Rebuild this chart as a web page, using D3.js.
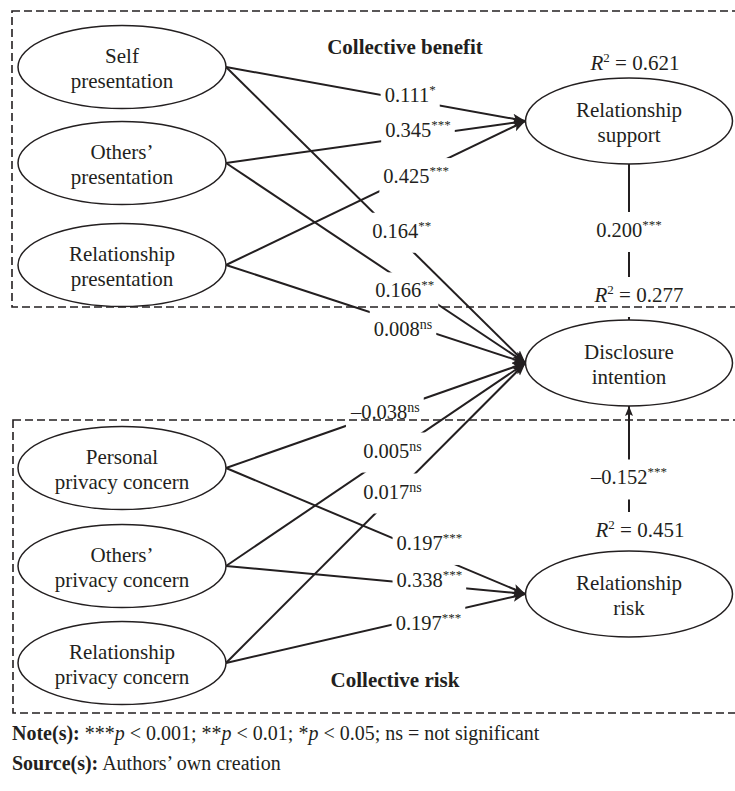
<!DOCTYPE html>
<html><head><meta charset="utf-8">
<script src="https://cdn.jsdelivr.net/npm/d3@7"></script>
<style>
html,body{margin:0;padding:0;background:#fff;}
svg{display:block;}
text{font-family:"Liberation Serif","Times New Roman",serif;fill:#231f20;}
</style></head><body>
<svg id="chart" width="735" height="791"></svg>
<script>
// ---------------- data ----------------
const nodeIds = ["SP","OP","RP","PPC","OPC","RPC","RS","DI","RR"];
const nodeLabels = [
  ["Self","presentation"],["Others’","presentation"],["Relationship","presentation"],
  ["Personal","privacy concern"],["Others’","privacy concern"],["Relationship","privacy concern"],
  ["Relationship","support"],["Disclosure","intention"],["Relationship","risk"]
];
const outcomeIds = ["RS","DI","RR"];
const rSquared = ["0.621","0.277","0.451"];

const pathFrom = ["SP","OP","RP","SP","OP","RP","PPC","OPC","RPC","PPC","OPC","RPC","RS","RR"];
const pathTo   = ["RS","RS","RS","DI","DI","DI","DI","DI","DI","RR","RR","RR","DI","DI"];
const pathCoef = ["0.111","0.345","0.425","0.164","0.166","0.008","\u20130.038","0.005","0.017","0.197","0.338","0.197","0.200","\u20130.152"];
const pathSig  = ["*","***","***","**","**","ns","ns","ns","ns","***","***","***","***","***"];

const groupTitles = ["Collective benefit","Collective risk"];
const noteParts = [["Note(s):","b"],[" ***",""],["p","i"],[" < 0.001; **",""],["p","i"],[" < 0.01; *",""],["p","i"],[" < 0.05; ns = not significant",""]];
const sourceParts = [["Source(s):","b"],[" Authors’ own creation",""]];

// ---------------- layout ----------------
const W = 735, H = 791;
const nodeColumn = ["in","in","in","in","in","in","out","out","out"];
const nodeRow = [67,163,265,468,566,663,121,363,594];
const colX = d3.scalePoint().domain(["in","out"]).range([122,629]);
const rowY = d3.scaleLinear().domain([0,791]).range([0,791]);
const RX = {in:104, out:103.5}, RY = {in:41.5, out:43};
// label placement along each path: fraction t and baseline offset
const labelT  = [.615,.641,.635,.587,.597,.591,.532,.556,.556,.679,.679,.676,.423,.507];
const labelDy = [2,1,9.5,-3,15,12.7,6.4,4.4,2.3,-3.6,2,13.6,7,7];
const r2Dx = [6,10,11], r2Dy = [-8,-18,-14];

const svg = d3.select("#chart");
const ink = "#231f20";
const defs = svg.append("defs");
defs.append("marker").attr("id","arrow").attr("markerUnits","userSpaceOnUse")
  .attr("viewBox","0 -6 14 12").attr("refX",13).attr("refY",0)
  .attr("markerWidth",14).attr("markerHeight",12).attr("orient","auto")
  .append("path").attr("d","M0,-5L13,0L0,5L3,0Z").attr("fill",ink);
defs.append("marker").attr("id","arrowS").attr("markerUnits","userSpaceOnUse")
  .attr("viewBox","0 -5 11 10").attr("refX",10).attr("refY",0)
  .attr("markerWidth",11).attr("markerHeight",10).attr("orient","auto")
  .append("path").attr("d","M0,-4L10,0L0,4L2,0Z").attr("fill",ink);

const nodes = nodeIds.map((id,i)=>({id, label:nodeLabels[i], col:nodeColumn[i],
  cx: colX(nodeColumn[i]), cy: rowY(nodeRow[i]), rx: RX[nodeColumn[i]], ry: RY[nodeColumn[i]]}));
const byId = Object.fromEntries(nodes.map(n=>[n.id,n]));

// dashed group boxes
const boxes = [{x:12,y:11,y2:307},{x:13,y:420,y2:713}];
svg.append("g").selectAll("rect").data(boxes).join("rect")
  .attr("x",d=>d.x).attr("y",d=>d.y).attr("width",W+20-12).attr("height",d=>d.y2-d.y)
  .attr("fill","none").attr("stroke",ink).attr("stroke-width",1.6).attr("stroke-dasharray","8,4");

// edges geometry
const edges = pathFrom.map((f,i)=>{
  const s = byId[f], t = byId[pathTo[i]];
  let x1,y1,x2,y2,vertical=false;
  if (s.col==="out") { // vertical between outcomes
    vertical = true;
    x1 = s.cx; x2 = t.cx;
    if (s.cy < t.cy) { y1 = s.cy + s.ry; y2 = t.cy - t.ry; } else { y1 = s.cy - s.ry; y2 = t.cy + t.ry; }
  } else {
    x1 = s.cx + s.rx; y1 = s.cy; x2 = t.cx - t.rx; y2 = t.cy;
  }
  const lx = x1 + (x2-x1)*labelT[i], ly = y1 + (y2-y1)*labelT[i] + labelDy[i];
  return {i,x1,y1,x2,y2,vertical,lx,ly,coef:pathCoef[i],sig:pathSig[i]};
});

const edgeG = svg.append("g");
const nodeG = svg.append("g");
const labelG = svg.append("g");

// edge labels
const lab = labelG.selectAll("text.coef").data(edges).join("text").attr("class","coef")
  .attr("x",d=>d.lx).attr("y",d=>d.ly).attr("text-anchor","middle").attr("font-size",20.5);
lab.append("tspan").text(d=>d.coef);
lab.append("tspan").attr("font-size",d=>d.sig==="ns"?14:13).attr("dy",d=>d.sig==="ns"?-7:-8)
  .text(d=>d.sig);

// R² labels
const r2 = outcomeIds.map((id,k)=>{const n=byId[id]; return {id,val:rSquared[k],x:n.cx+r2Dx[k],y:n.cy-n.ry+r2Dy[k]};});
const r2t = labelG.selectAll("text.r2").data(r2).join("text").attr("class","r2")
  .attr("x",d=>d.x).attr("y",d=>d.y).attr("text-anchor","middle").attr("font-size",21);
r2t.append("tspan").attr("font-style","italic").text("R");
r2t.append("tspan").attr("font-size",13).attr("dy",-8).text("2");
r2t.append("tspan").attr("dy",8).text(d=>" = "+d.val);

// masks: each edge hidden behind its own labels
function boxOf(el, baseline){const b=el.getBBox(); return {x:b.x-4,y:baseline-25,w:b.width+8,h:40};}
const r2Box = {};
r2t.each(function(d){r2Box[d.id]=boxOf(this,d.y);});
lab.each(function(d){
  const boxesE=[boxOf(this,d.ly)];
  if (d.vertical){ const tgt = pathTo[d.i]; const src = pathFrom[d.i];
    // R² label of the node the arrow points to (DI from RS) or of the source (RR)
    if (src==="RS") boxesE.push(r2Box["DI"]); else boxesE.push(r2Box[src]); }
  const m = defs.append("mask").attr("id","m"+d.i).attr("maskUnits","userSpaceOnUse")
    .attr("x",0).attr("y",0).attr("width",W).attr("height",H);
  m.append("rect").attr("x",0).attr("y",0).attr("width",W).attr("height",H).attr("fill","#fff");
  boxesE.forEach(b=>m.append("rect").attr("x",b.x).attr("y",b.y).attr("width",b.w).attr("height",b.h).attr("fill","#000"));
});

edgeG.selectAll("line").data(edges).join("line")
  .attr("x1",d=>d.x1).attr("y1",d=>d.y1).attr("x2",d=>d.x2).attr("y2",d=>d.y2)
  .attr("stroke",ink).attr("stroke-width",2)
  .attr("marker-end",d=>d.vertical?"url(#arrowS)":"url(#arrow)")
  .attr("mask",d=>"url(#m"+d.i+")");

// nodes
const ng = nodeG.selectAll("g").data(nodes).join("g").attr("transform",d=>`translate(${d.cx},${d.cy})`);
ng.append("ellipse").attr("rx",d=>d.rx).attr("ry",d=>d.ry).attr("fill","#fff").attr("stroke",ink).attr("stroke-width",1.5);
ng.append("text").attr("text-anchor","middle").attr("font-size",21)
  .selectAll("tspan").data(d=>d.label).join("tspan").attr("x",0)
  .attr("y",(t,j)=> j===0 ? -4.5 : 20.5).text(t=>t);

// group titles
const titlePos = [{x:405,y:54},{x:395,y:687}];
svg.append("g").selectAll("text").data(groupTitles).join("text")
  .attr("x",(d,i)=>titlePos[i].x).attr("y",(d,i)=>titlePos[i].y).attr("text-anchor","middle")
  .attr("font-size",21).attr("font-weight","bold").text(d=>d);

// notes
function rich(parts,y){
  const t = svg.append("text").attr("x",12).attr("y",y).attr("font-size",20).attr("xml:space","preserve");
  t.selectAll("tspan").data(parts).join("tspan")
    .attr("font-weight",p=>p[1]==="b"?"bold":null).attr("font-style",p=>p[1]==="i"?"italic":null)
    .text(p=>p[0]);
}
rich(noteParts,740);
rich(sourceParts,770);
</script>
</body></html>
